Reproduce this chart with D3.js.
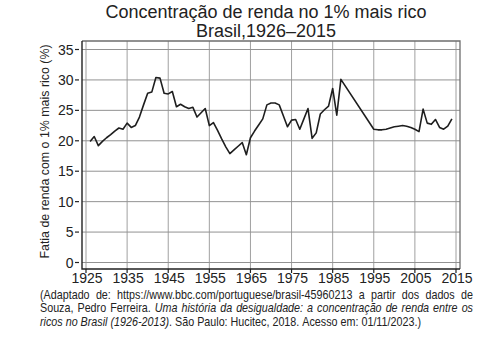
<!DOCTYPE html>
<html>
<head>
<meta charset="utf-8">
<script src="https://cdn.jsdelivr.net/npm/d3@7"></script>
<style>
  html, body { margin: 0; padding: 0; background: #fff; }
  svg { display: block; }
  .tick-label { font-family: 'Liberation Sans', Arial, sans-serif; font-size: 14px; fill: #222; }
  .caption { font-family: 'Liberation Sans', Arial, sans-serif; font-size: 12.6px; fill: #222; }
</style>
</head>
<body>
<svg id="chart" width="481" height="338"></svg>
<script>
// ---------------- DATA ----------------
const titleLines = ["Concentração de renda no 1% mais rico", "Brasil,1926–2015"];
const yAxisTitle = "Fatia de renda com o 1% mais rico (%)";

const years = [1926,1927,1928,1929,1930,1931,1932,1933,1934,1935,1936,1937,1938,1939,1940,
  1941,1942,1943,1944,1945,1946,1947,1948,1949,1950,1951,1952,1953,1954,1955,1956,1957,1958,
  1959,1960,1961,1962,1963,1964,1965,1966,1967,1968,1969,1970,1971,1972,1973,1974,1975,1976,
  1977,1978,1979,1980,1981,1982,1983,1984,1985,1986,1987,1995,1996,1997,1998,1999,2000,2001,
  2002,2003,2004,2005,2006,2007,2008,2009,2010,2011,2012,2013,2014];
const shares = [19.9,20.7,19.2,19.9,20.5,21.0,21.6,22.1,21.9,22.9,22.2,22.5,23.9,25.9,27.8,
  28.0,30.4,30.3,27.8,27.7,28.1,25.6,26.0,25.6,25.3,25.5,23.9,24.6,25.3,22.5,23.0,21.7,20.3,
  19.0,17.9,18.5,19.1,19.7,17.7,20.5,21.6,22.6,23.6,25.9,26.2,26.2,25.9,24.1,22.3,23.4,23.5,
  21.9,23.6,25.3,20.4,21.3,24.4,25.1,25.7,28.6,24.2,30.1,21.9,21.8,21.8,21.9,22.1,22.3,22.4,
  22.5,22.4,22.2,21.9,21.5,25.2,22.9,22.7,23.5,22.2,21.9,22.4,23.6];

const xTicks = [1925,1935,1945,1955,1965,1975,1985,1995,2005,2015];
const yTicks = [0,5,10,15,20,25,30,35];

const captionLines = [
  [["(Adaptado de: https://www.bbc.com/portuguese/brasil-45960213 a partir dos dados de", false]],
  [["Souza, Pedro Ferreira. ", false], ["Uma história da desigualdade: a concentração de renda entre os", true]],
  [["ricos no Brasil (1926-2013)", true], [". São Paulo: Hucitec, 2018. Acesso em: 01/11/2023.)", false]]
];

// ---------------- LAYOUT ----------------
const svg = d3.select("#chart");
const panel = { left: 82, right: 460, top: 41, bottom: 269 };

const x = d3.scaleLinear().domain([1925, 2015]).range([86, 456]);
const y = d3.scaleLinear().domain([0, 35]).range([262.5, 49.5]);

// Title
svg.append("g").selectAll("text").data(titleLines).join("text")
  .attr("x", 266).attr("y", (d, i) => 17.5 + i * 19)
  .attr("text-anchor", "middle")
  .style("font-family", "'Liberation Sans', Arial, sans-serif")
  .style("font-size", "18px").style("fill", "#222")
  .text(d => d);

// Grid
const grid = svg.append("g");
grid.selectAll("line.v").data(xTicks).join("line").attr("class", "v")
  .attr("x1", d => x(d)).attr("x2", d => x(d))
  .attr("y1", panel.top).attr("y2", panel.bottom)
  .attr("stroke", "#a0a0a0").attr("stroke-width", 1);
grid.selectAll("line.h").data(yTicks).join("line").attr("class", "h")
  .attr("y1", d => y(d)).attr("y2", d => y(d))
  .attr("x1", panel.left).attr("x2", panel.right)
  .attr("stroke", "#929292").attr("stroke-width", 1);

// Panel frame (top/right grey)
svg.append("path")
  .attr("d", `M${panel.left},${panel.top}H${panel.right}V${panel.bottom}`)
  .attr("fill", "none").attr("stroke", "#6e6e6e").attr("stroke-width", 1.3);

// Axis lines (left/bottom black)
svg.append("path")
  .attr("d", `M${panel.left},${panel.top}V${panel.bottom}H${panel.right}`)
  .attr("fill", "none").attr("stroke", "#222").attr("stroke-width", 1.4);

// Y ticks
const yAx = svg.append("g");
yAx.selectAll("line").data(yTicks).join("line")
  .attr("x1", 75).attr("x2", 79)
  .attr("y1", d => y(d)).attr("y2", d => y(d))
  .attr("stroke", "#222").attr("stroke-width", 1.2);
yAx.selectAll("text").data(yTicks).join("text")
  .attr("class", "tick-label")
  .attr("x", 73.5).attr("y", d => y(d)).attr("dy", "0.36em")
  .attr("text-anchor", "end")
  .text(d => d);

// X ticks
const xAx = svg.append("g");
xAx.selectAll("line").data(xTicks).join("line")
  .attr("x1", d => x(d)).attr("x2", d => x(d))
  .attr("y1", panel.bottom).attr("y2", panel.bottom + 4)
  .attr("stroke", "#222").attr("stroke-width", 1.2);
xAx.selectAll("text").data(xTicks).join("text")
  .attr("class", "tick-label")
  .attr("x", d => x(d) + 1).attr("y", 283)
  .attr("text-anchor", "middle")
  .text(d => d);

// Y axis title
svg.append("text")
  .attr("transform", `translate(48.5,${(45 + 258) / 2}) rotate(-90)`)
  .attr("text-anchor", "middle")
  .style("font-family", "'Liberation Sans', Arial, sans-serif")
  .style("font-size", "12.4px").style("fill", "#222")
  .text(yAxisTitle);

// Line
const pts = years.map((yr, i) => [yr, shares[i]]);
svg.append("path")
  .datum(pts)
  .attr("fill", "none").attr("stroke", "#1e1e1e").attr("stroke-width", 1.6)
  .attr("stroke-linejoin", "round")
  .attr("d", d3.line().x(d => x(d[0])).y(d => y(d[1])));

// Caption (condensed via horizontal scale, word-justified)
const capX0 = 40, capX1 = 473, lastLineEnd = 421;
const capY = [299, 312.5, 326];
const capG = svg.append("g");
const built = captionLines.map((segs, li) => {
  const words = [];
  let cur = [];
  segs.forEach(([txt, it]) => {
    txt.split(" ").forEach((part, k) => {
      if (k > 0) { if (cur.length) words.push(cur); cur = []; }
      if (part.length) cur.push({ t: part, it });
    });
  });
  if (cur.length) words.push(cur);
  const nodes = words.map(w => {
    const t = capG.append("text").attr("class", "caption").attr("y", capY[li]);
    w.forEach(p => t.append("tspan").style("font-style", p.it ? "italic" : "normal").text(p.t));
    return t;
  });
  const widths = nodes.map(n => n.node().getComputedTextLength());
  return { nodes, widths };
});
// natural space width
const sp = capG.append("text").attr("class", "caption").text("a a");
const sp2 = capG.append("text").attr("class", "caption").text("aa");
const spaceNat = sp.node().getComputedTextLength() - sp2.node().getComputedTextLength();
sp.remove(); sp2.remove();
const last = built[built.length - 1];
const lastNat = d3.sum(last.widths) + spaceNat * (last.widths.length - 1);
const sx = (lastLineEnd - capX0) / lastNat;
capG.attr("transform", `translate(${capX0},0) scale(${sx},1)`);
const fullW = (capX1 - capX0) / sx;
built.forEach((b, li) => {
  const total = d3.sum(b.widths);
  const justify = li < built.length - 1;
  const gap = justify ? (fullW - total) / (b.widths.length - 1) : spaceNat;
  let cx = 0;
  b.nodes.forEach((n, i) => { n.attr("x", cx); cx += b.widths[i] + gap; });
});
</script>
</body>
</html>
